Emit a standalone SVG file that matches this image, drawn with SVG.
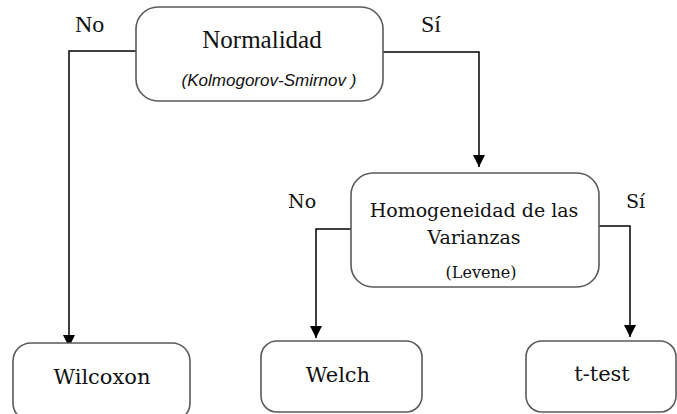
<svg xmlns="http://www.w3.org/2000/svg" width="677" height="414" viewBox="0 0 677 414">
<style>
.box{fill:#fff;stroke:#5a5a5a;stroke-width:1.6}
.con{fill:none;stroke:#000;stroke-width:1.5}
.tms{font-family:"Liberation Serif","Times New Roman",serif;fill:#111}
.cam{font-family:"DejaVu Serif","Liberation Serif",serif;fill:#111}
.mid{text-anchor:middle}
</style>
<defs>
<marker id="arr" markerUnits="userSpaceOnUse" markerWidth="12" markerHeight="14" refX="12" refY="6" orient="auto" viewBox="0 0 12 12">
<path d="M0,0 L12,6 L0,12 z" fill="#000"/>
</marker>
</defs>
<rect width="677" height="414" fill="#fff"/>
<g id="connectors">
<path class="con" d="M136,51 H69 V347" marker-end="url(#arr)"/>
<path class="con" d="M383,52 H479 V167" marker-end="url(#arr)"/>
<path class="con" d="M351,229 H316 V338" marker-end="url(#arr)"/>
<path class="con" d="M599,226 H630 V337" marker-end="url(#arr)"/>
<text class="tms" x="75" y="32" font-size="24">No</text>
<text class="tms" x="421" y="32" font-size="24">Sí</text>
<text class="cam" x="288" y="208" font-size="19">No</text>
<text class="cam" x="626" y="208" font-size="19">Sí</text>
</g>
<g id="normalidad">
<rect class="box" x="136" y="7" width="247" height="94" rx="22"/>
<text class="tms mid" x="262" y="48" font-size="25">Normalidad</text>
<text class="mid" x="269" y="86" font-size="17" font-style="italic" font-family="Liberation Sans, Arial, sans-serif" fill="#111">(Kolmogorov-Smirnov )</text>
</g>
<g id="homogeneidad">
<rect class="box" x="351" y="173" width="248" height="114" rx="22"/>
<text class="cam mid" x="474" y="217" font-size="19">Homogeneidad de las</text>
<text class="cam mid" x="474" y="244" font-size="19">Varianzas</text>
<text class="cam mid" x="481" y="278" font-size="16">(Levene)</text>
</g>
<g id="wilcoxon">
<rect class="box" x="13" y="343" width="177" height="78" rx="18"/>
<text class="cam mid" x="102" y="384" font-size="21">Wilcoxon</text>
</g>
<g id="welch">
<rect class="box" x="261" y="341" width="161" height="71" rx="16"/>
<text class="cam mid" x="338" y="382" font-size="21">Welch</text>
</g>
<g id="ttest">
<rect class="box" x="526" y="341" width="150" height="71" rx="16"/>
<text class="cam mid" x="602" y="381" font-size="21">t-test</text>
</g>
</svg>
